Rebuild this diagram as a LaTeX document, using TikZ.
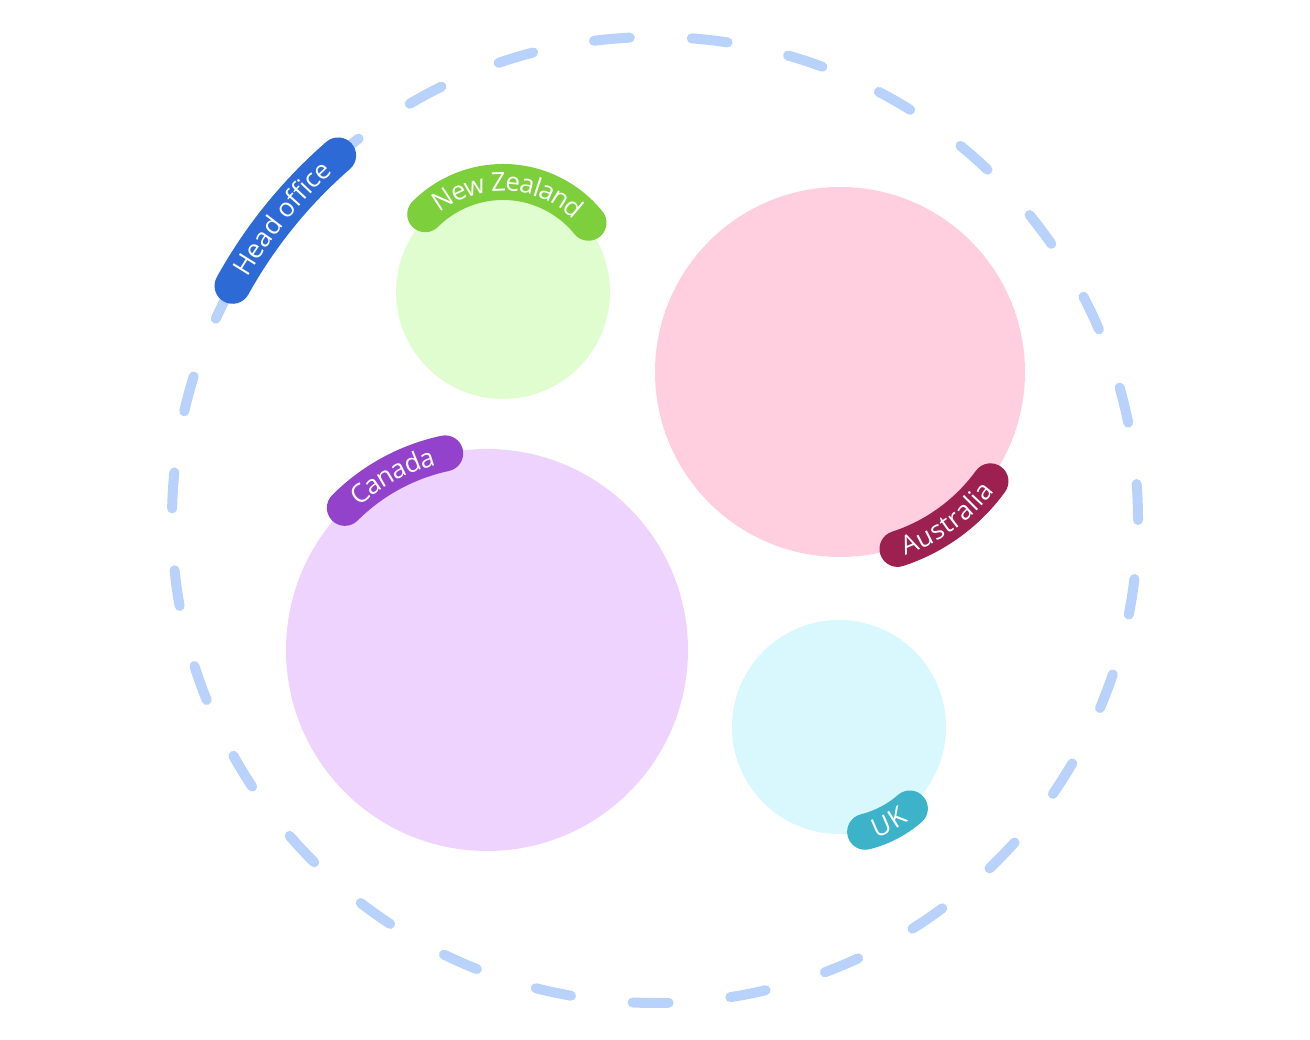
\documentclass[tikz,border=0pt]{standalone}
\usepackage{fontspec}
\setmainfont{Open Sans}
\usetikzlibrary{decorations.text}
\definecolor{dashc}{HTML}{B8D2FB}
\definecolor{nzf}{HTML}{E0FDD0}\definecolor{nzl}{HTML}{7DCF3C}
\definecolor{auf}{HTML}{FFCEDF}\definecolor{aul}{HTML}{9C2050}
\definecolor{caf}{HTML}{EDD3FE}\definecolor{cal}{HTML}{9343CB}
\definecolor{ukf}{HTML}{D8F8FE}\definecolor{ukl}{HTML}{3DB3C9}
\definecolor{hol}{HTML}{2D6AD6}
\newcommand{\lblfont}{\fontsize{26}{26}\selectfont}
\tikzset{
 region/.style={circle,inner sep=0pt,minimum size=#1},
 band/.style={line width=36pt,line cap=round},
 lbltext/.style={decorate,decoration={text along path,text align=center,raise=-9pt,
   text={|\lblfont\color{white}|#1}}}
}
\begin{document}
\begin{tikzpicture}[x=1pt,y=1pt]
\useasboundingbox (0,0) rectangle (1310,1040);
\node[region=966pt] (big) at (655,520) {};
\draw[dashc,line width=10pt,line cap=round,dash pattern=on 36pt off 62pt] (big.center) circle[radius=483];
\node[region=214pt,fill=nzf] (nz) at (503,748) {};
\node[region=370pt,fill=auf] (au) at (840,668) {};
\node[region=402pt,fill=caf] (ca) at (487,390) {};
\node[region=214pt,fill=ukf] (uk) at (839,313) {};
% Head office
\draw[band,hol] ([shift={(151:483)}]big.center) arc[start angle=151,end angle=131,radius=483];
\path[lbltext={Head office}] ([shift={(153:483)}]big.center) arc[start angle=153,end angle=129,radius=483];
% New Zealand
\draw[band,nzl] ([shift={(135:110)}]nz.center) arc[start angle=135,end angle=39,radius=110];
\path[lbltext={New Zealand}] ([shift={(155:110)}]nz.center) arc[start angle=155,end angle=19,radius=110];
% Canada
\draw[band,cal] ([shift={(135:201)}]ca.center) arc[start angle=135,end angle=102,radius=201];
\path[lbltext={Canada}] ([shift={(145:201)}]ca.center) arc[start angle=145,end angle=92,radius=201];
% Australia
\draw[band,aul] ([shift={(-72:186)}]au.center) arc[start angle=-72,end angle=-36,radius=186];
\path[lbltext={Australia}] ([shift={(-84:186)}]au.center) arc[start angle=-84,end angle=-24,radius=186];
% UK
\draw[band,ukl] ([shift={(-76:108)}]uk.center) arc[start angle=-76,end angle=-49,radius=108];
\path[lbltext={UK}] ([shift={(-90:108)}]uk.center) arc[start angle=-90,end angle=-35,radius=108];
\end{tikzpicture}
\end{document}
